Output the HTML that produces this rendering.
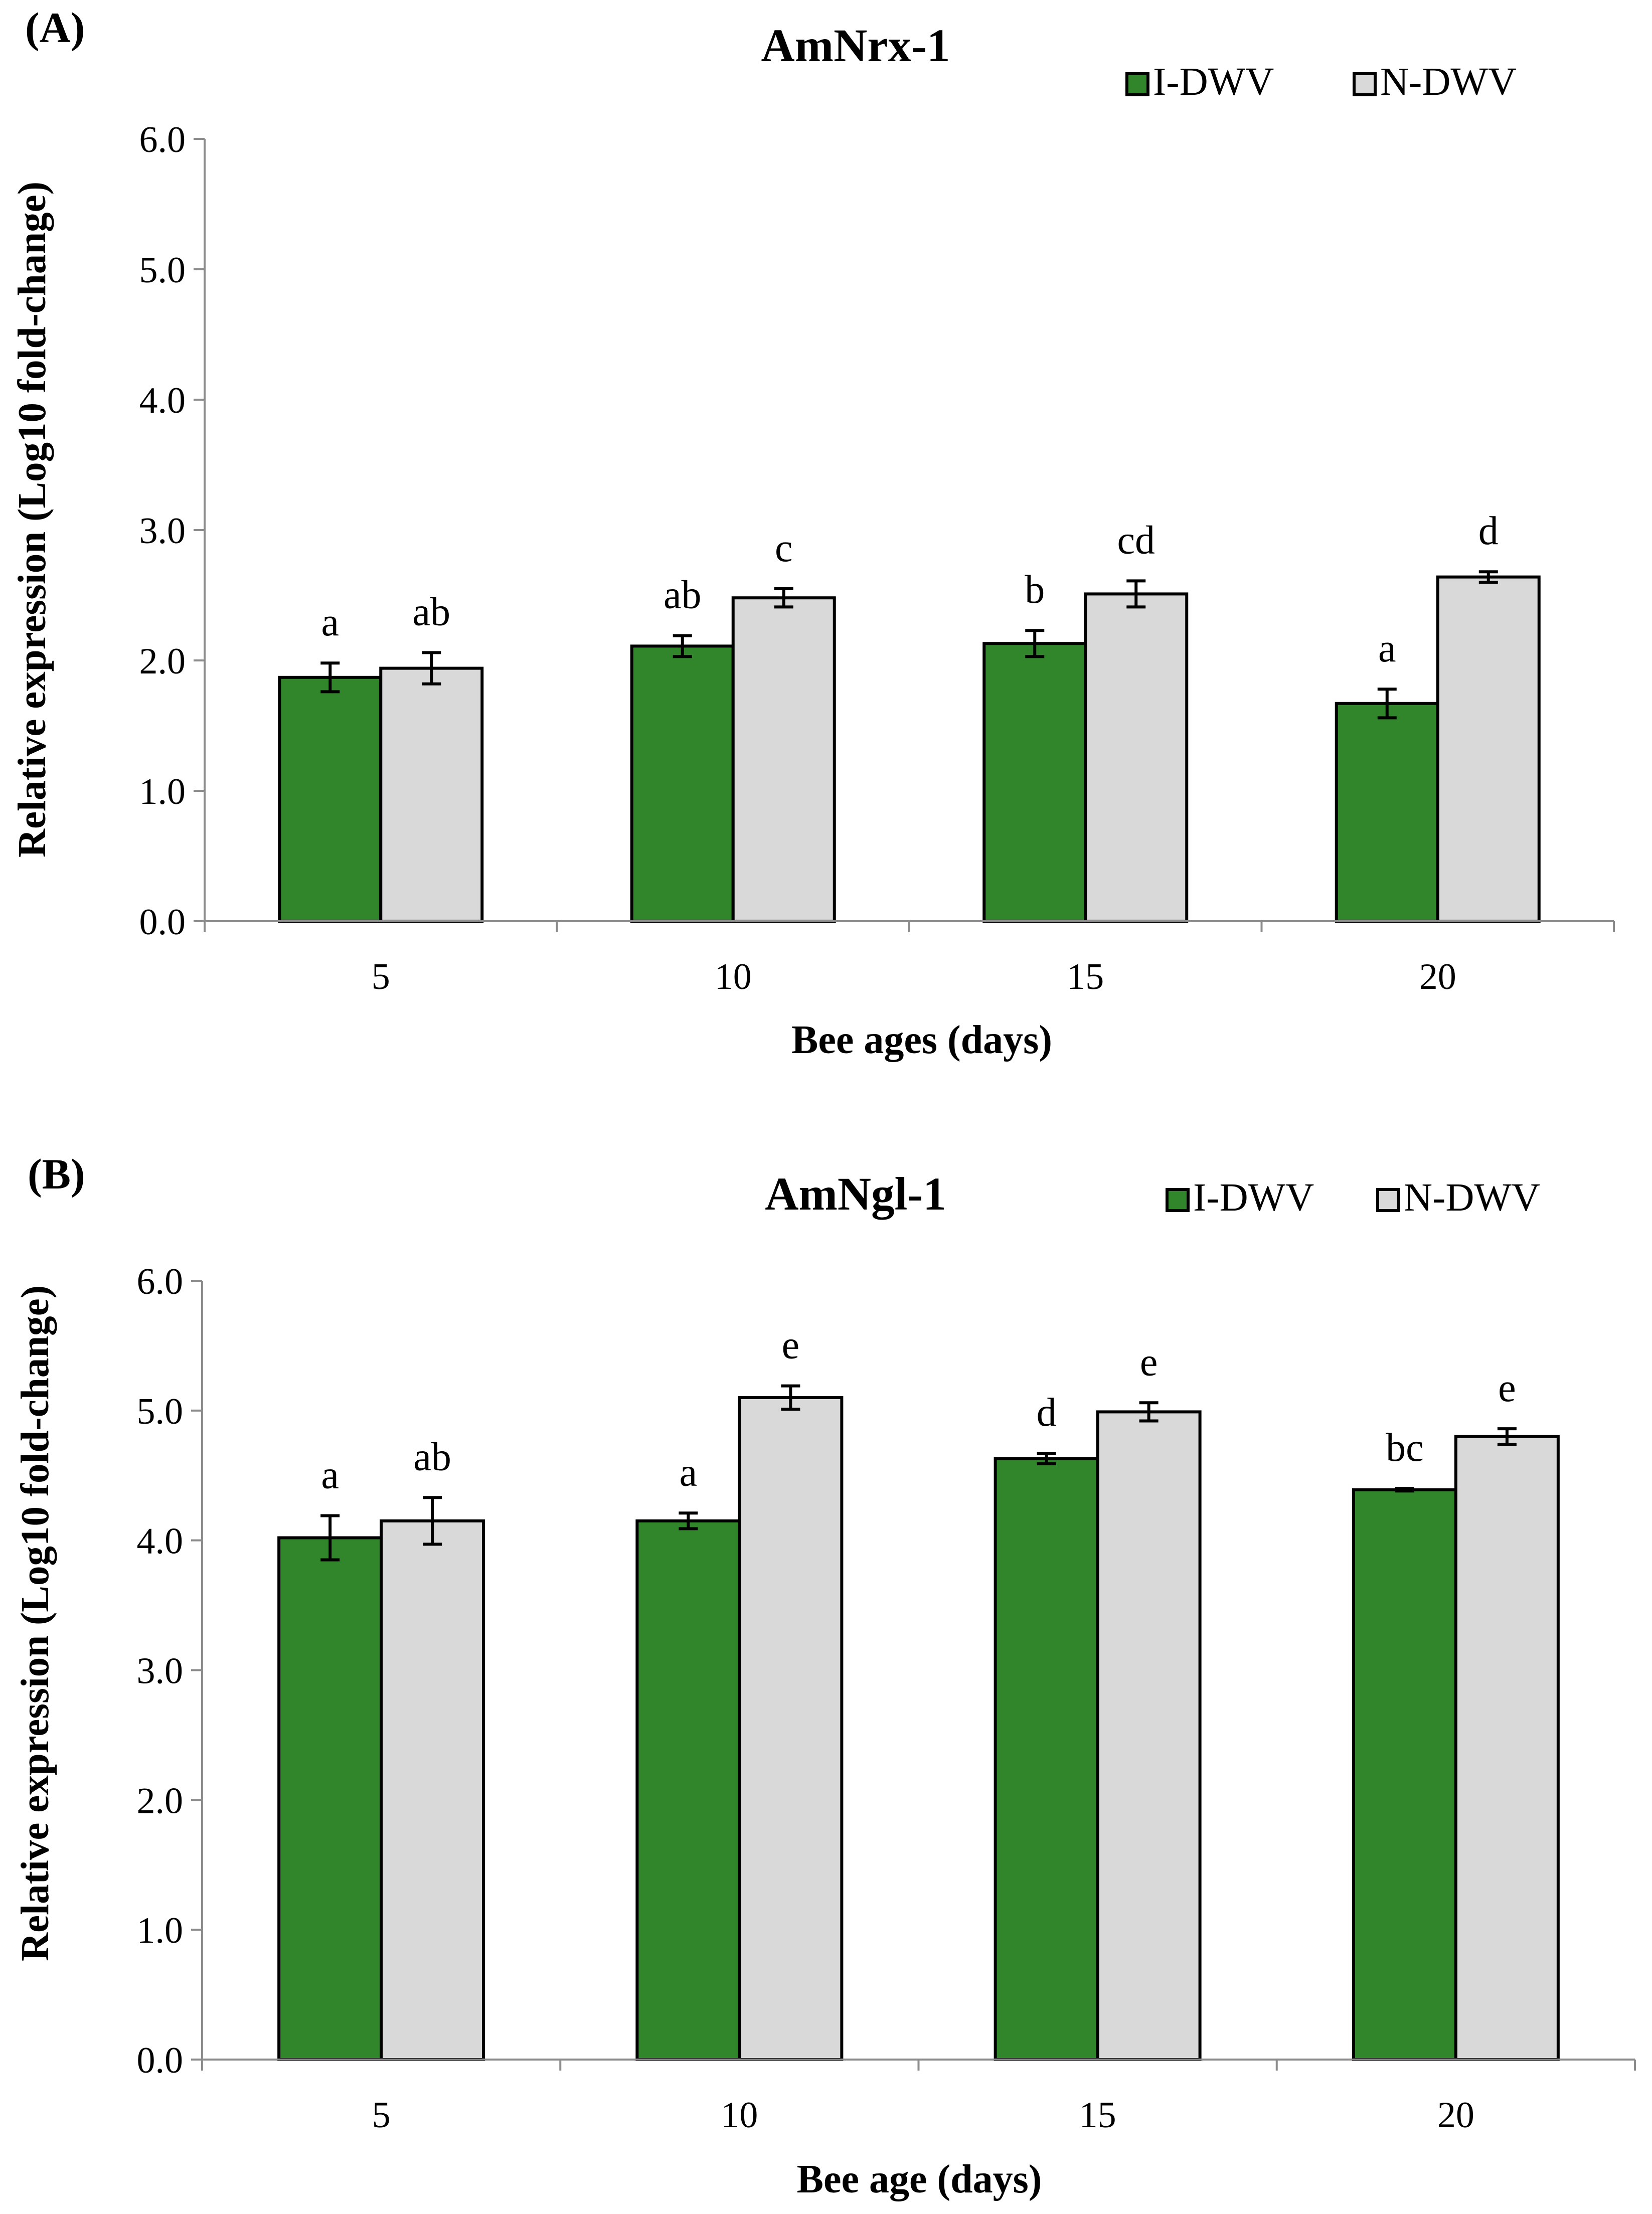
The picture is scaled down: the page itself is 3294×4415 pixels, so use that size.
<!DOCTYPE html>
<html><head><meta charset="utf-8">
<style>
html,body{margin:0;padding:0;background:#fff;}
svg{display:block;font-family:"Liberation Serif",serif;}
</style></head>
<body>
<svg id="fig" width="3294" height="4415" viewBox="0 0 3294 4415" xmlns="http://www.w3.org/2000/svg"></svg>
<script>
// Shared
const categories = ["5","10","15","20"];
const yTickLabels = ["0.0","1.0","2.0","3.0","4.0","5.0","6.0"];
const yTickValues = [0,1,2,3,4,5,6];
const seriesNames = ["I-DWV","N-DWV"];
// Panel A: AmNrx-1
const aIDWV = [1.87, 2.11, 2.13, 1.67];
const aIDWVErr = [0.11, 0.08, 0.10, 0.11];
const aNDWV = [1.94, 2.48, 2.51, 2.64];
const aNDWVErr = [0.12, 0.07, 0.10, 0.04];
const aLettersI = ["a","ab","b","a"];
const aLettersN = ["ab","c","cd","d"];
// Panel B: AmNgl-1
const bIDWV = [4.02, 4.15, 4.63, 4.39];
const bIDWVErr = [0.17, 0.06, 0.04, 0.01];
const bNDWV = [4.15, 5.10, 4.99, 4.80];
const bNDWVErr = [0.18, 0.09, 0.07, 0.06];
const bLettersI = ["a","a","d","bc"];
const bLettersN = ["ab","e","e","e"];

const NS = "http://www.w3.org/2000/svg";
const svg = document.getElementById("fig");
function mk(tag, attrs, parent, text){
  const e = document.createElementNS(NS, tag);
  for (const k in attrs) e.setAttribute(k, attrs[k]);
  if (text !== undefined) e.textContent = text;
  (parent||svg).appendChild(e);
  return e;
}

function drawPanel(p){
  const g = mk("g", {});
  
  
  const yMax = 6;
  const ys = v => p.y0 - (v / yMax) * (p.y0 - p.y6);
  const catW = (p.x1 - p.x0) / categories.length;
  const cx = i => p.x0 + catW * (i + 0.5);
  const bw = p.bw;

  let t = mk("text", {x:p.labelX, y:p.labelY, "font-size":86, "font-weight":"bold"}, g, p.label);
  
  
  t = mk("text", {x:1706, y:p.titleY, "font-size":93, "font-weight":"bold", "text-anchor":"middle"}, g, p.title);
  
  
  const fills = ["#31852b", "#d9d9d9"];
  for (let s = 0; s < 2; s++){
    const lg = mk("g", {}, g);
    
    
    mk("rect", {x:p.legX[s], y:p.legY, width:42, height:42, fill:fills[s], stroke:"#000", "stroke-width":6}, lg);
    mk("text", {x:p.legX[s] + 52, y:p.legY + 42, "font-size":79}, lg, seriesNames[s]);
  }
  let l = mk("line", {x1:p.x0, y1:p.y6, x2:p.x0, y2:p.y0, stroke:"#8c8c8c", "stroke-width":4}, g);
  
  
  yTickValues.forEach((v, i) => {
    mk("line", {x1:p.x0 - 22, y1:ys(v), x2:p.x0, y2:ys(v), stroke:"#8c8c8c", "stroke-width":4}, g);
    const tl = mk("text", {x:p.x0 - 38, y:ys(v) + 26, "font-size":74, "text-anchor":"end"}, g, yTickLabels[i]);
    
    
  });
  t = mk("text", {x:0, y:0, "font-size":79, "font-weight":"bold", "text-anchor":"middle",
    transform:"translate(" + (p.yTitleX) + "," + p.yTitleY + ") rotate(-90)"}, g, "Relative expression (Log10 fold-change)");
  
  

  const series = [[p.vI, p.eI, p.lI], [p.vN, p.eN, p.lN]];
  categories.forEach((c, i) => {
    for (let s = 0; s < 2; s++){
      const v = series[s][0][i], e = series[s][1][i];
      const x = s === 0 ? cx(i) - bw : cx(i);
      const r = mk("rect", {x:x, y:ys(v), width:bw, height:ys(0) - ys(v), fill:fills[s], stroke:"#000", "stroke-width":6}, g);
      
      
      const ex = x + bw / 2;
      const eg = mk("g", {stroke:"#000", "stroke-width":6}, g);
      
      
      mk("line", {x1:ex, y1:ys(v + e), x2:ex, y2:ys(v - e)}, eg);
      mk("line", {x1:ex - 19, y1:ys(v + e), x2:ex + 19, y2:ys(v + e)}, eg);
      mk("line", {x1:ex - 19, y1:ys(v - e), x2:ex + 19, y2:ys(v - e)}, eg);
      const lt = mk("text", {x:ex, y:ys(v + e) - 55, "font-size":80, "text-anchor":"middle"}, g, series[s][2][i]);
      
      
    }
  });
  l = mk("line", {x1:p.x0, y1:p.y0, x2:p.x1, y2:p.y0, stroke:"#8c8c8c", "stroke-width":4}, g);
  
  
  for (let i = 0; i <= categories.length; i++){
    mk("line", {x1:p.x0 + catW * i, y1:p.y0, x2:p.x0 + catW * i, y2:p.y0 + 22, stroke:"#8c8c8c", "stroke-width":4}, g);
  }
  categories.forEach((c, i) => {
    const tl = mk("text", {x:cx(i), y:p.y0 + 135, "font-size":74, "text-anchor":"middle"}, g, c);
    
    
  });
  t = mk("text", {x:p.xTitleX, y:p.xTitleY, "font-size":80, "font-weight":"bold", "text-anchor":"middle"}, g, p.xTitle);
  
  
}

drawPanel({id:"panel-a", label:"(A)", labelX:50, labelY:84, title:"AmNrx-1", titleY:122,
  legX:[2247, 2700], legY:147, x0:408, x1:3218, y0:1837, y6:277, bw:202,
  vI:aIDWV, eI:aIDWVErr, vN:aNDWV, eN:aNDWVErr, lI:aLettersI, lN:aLettersN,
  yTitleX:90, yTitleY:1036, xTitle:"Bee ages (days)", xTitleX:1838, xTitleY:2100});
drawPanel({id:"panel-b", label:"(B)", labelX:55, labelY:2370, title:"AmNgl-1", titleY:2412,
  legX:[2327, 2747], legY:2372, x0:403, x1:3260, y0:4107, y6:2554, bw:204,
  vI:bIDWV, eI:bIDWVErr, vN:bNDWV, eN:bNDWVErr, lI:bLettersI, lN:bLettersN,
  yTitleX:96, yTitleY:3237, xTitle:"Bee age (days)", xTitleX:1833, xTitleY:4372});
</script>
</body></html>
